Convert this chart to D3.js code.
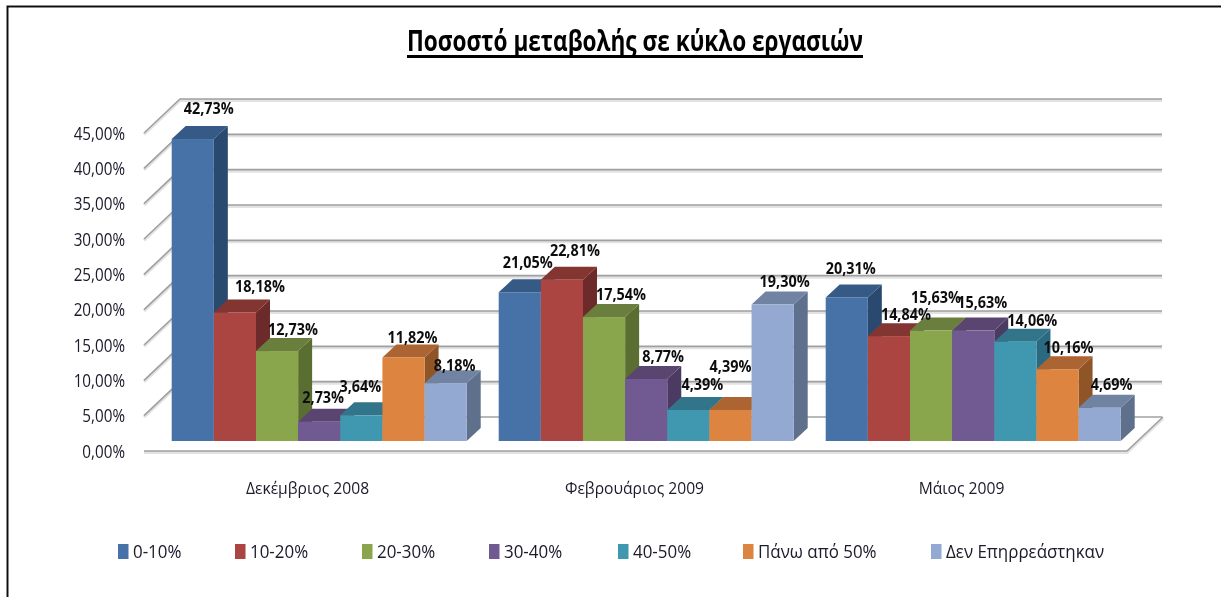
<!DOCTYPE html>
<html><head><meta charset="utf-8">
<script src="https://cdn.jsdelivr.net/npm/d3@7"></script>
<style>html,body{margin:0;padding:0;background:#fff}svg{display:block}</style>
</head><body><div id="c"></div>
<script>
const title = "Ποσοστό μεταβολής σε κύκλο εργασιών";
const categories = ["Δεκέμβριος 2008", "Φεβρουάριος 2009", "Μάιος 2009"];
const seriesNames = ["0-10%", "10-20%", "20-30%", "30-40%", "40-50%", "Πάνω από 50%", "Δεν Επηρρεάστηκαν"];
const dec2008 = [42.73, 18.18, 12.73, 2.73, 3.64, 11.82, 8.18];
const feb2009 = [21.05, 22.81, 17.54, 8.77, 4.39, 4.39, 19.30];
const may2009 = [20.31, 14.84, 15.63, 15.63, 14.06, 10.16, 4.69];
const groups = [dec2008, feb2009, may2009];
const ticks = [0, 5, 10, 15, 20, 25, 30, 35, 40, 45];

const front = ["#4672a8","#aa4442","#8aa64e","#715a92","#4098b0","#dc843f","#94a9d1"];
const topC  = ["#345a85","#833433","#6b7f3d","#5a4570","#33748a","#ac6530","#6f83a3"];
const sideC = ["#2c4a6e","#6d2b2a","#5a6e33","#4b3a62","#2b6b80","#8f5426","#5f6f8c"];

// hand-placed data-label nudges, as in the reference (dx, dy from the bar's back-top centre)
const nudgeX = [[16,25,16,4,-1,9,9],[8,13,17,17,14,0,12],[4,17,5,9,17,11,12]];
const nudgeY = [[-18.5,-14,-9,-12,-16,-7,-5],[-17,-16.5,-10,-10,-13,-31,-11],[-16,-9,-21,-16,-8.5,-9,-11]];
const legendX = [118,235,362,489,618,743,931];

const W = 1221, H = 597;
const face = "'Open Sans','Liberation Sans',sans-serif";
const svg = d3.select("#c").append("svg").attr("width", W).attr("height", H);
svg.append("defs").append("filter").attr("id","soft").attr("x","-2%").attr("y","-2%").attr("width","104%").attr("height","104%")
  .append("feGaussianBlur").attr("stdDeviation",0.45);
const root = svg.append("g").attr("filter","url(#soft)");

// squeeze real text to the narrow proportions of the reference
function squeeze(sel, k){
  const n = sel.node();
  sel.attr("textLength", n.getComputedTextLength()*k).attr("lengthAdjust","spacingAndGlyphs");
  return sel;
}

// frame: left and top only
root.append("path").attr("d","M7.5,597V6.5H1221").attr("fill","none").attr("stroke","#111").attr("stroke-width",2);

const tt = root.append("text").attr("x",635).attr("y",51).attr("text-anchor","middle")
  .attr("font-family",face).attr("font-weight","bold").attr("font-size",29)
  .attr("fill","#000").text(title);
tt.attr("textLength",456).attr("lengthAdjust","spacingAndGlyphs");
root.append("rect").attr("x",407).attr("y",55).attr("width",456).attr("height",3).attr("fill","#000");

const depthX = 36, depthY = 34;
const y = d3.scaleLinear().domain([0,45]).range([451,133]);
const x0 = d3.scaleBand().domain(categories).range([144,1125]).padding(0);
const xGroupPad = 27.7;
const x1 = d3.scaleBand().domain(seriesNames).range([xGroupPad, xGroupPad+295]);
const barFloor = 441, barDX = 14, barDY = 13;
const pxPerUnit = y(0)-y(1);

// grid
const grid = root.append("g");
ticks.forEach(t=>{
  const yy = y(t);
  const p = t===0
    ? `M144,${yy}H1127L${1127+depthX},${yy-depthY}`
    : `M144,${yy}L${144+depthX},${yy-depthY}H1162`;
  grid.append("path").attr("d",p).attr("fill","none").attr("stroke","#e2e2e2").attr("stroke-width",3).attr("transform","translate(0,1.5)");
  grid.append("path").attr("d",p).attr("fill","none").attr("stroke","#a0a0a0").attr("stroke-width",1.6);
});
root.append("path").attr("d",`M${144+depthX},${y(0)-depthY}H1162`).attr("fill","none").attr("stroke","#a0a0a0").attr("stroke-width",1.4);

// y labels
ticks.forEach(t=>{
  const s = root.append("text").attr("x",125).attr("y",y(t)+6.5).attr("text-anchor","end")
    .attr("font-family",face).attr("font-size",17.5).attr("fill","#1a1a2a")
    .text(d3.format(".2f")(t).replace(".",",")+"%");
  squeeze(s,0.87);
});

// bars
groups.forEach((vals,g)=>{
  const gx = x0(categories[g]);
  const bars = root.append("g");
  vals.forEach((v,i)=>{
    const xl = gx + x1(seriesNames[i]), w = x1.bandwidth(), h = v*pxPerUnit, t = barFloor-h;
    bars.append("path").attr("fill",sideC[i])
      .attr("d",`M${xl+w},${t}l${barDX},${-barDY}V${barFloor-barDY}L${xl+w},${barFloor}Z`);
    bars.append("path").attr("fill",topC[i])
      .attr("d",`M${xl},${t}l${barDX},${-barDY}h${w}l${-barDX},${barDY}Z`);
    bars.append("rect").attr("x",xl).attr("y",t).attr("width",w).attr("height",h).attr("fill",front[i]);
  });
  vals.forEach((v,i)=>{
    const xc = gx + x1(seriesNames[i]) + x1.bandwidth()/2, t = barFloor - v*pxPerUnit - barDY;
    const s = root.append("text").attr("x",xc+nudgeX[g][i]).attr("y",t+nudgeY[g][i]+6)
      .attr("text-anchor","middle").attr("font-family",face).attr("font-weight","bold")
      .attr("font-size",16).attr("fill","#111")
      .text(v.toFixed(2).replace(".",",")+"%");
    squeeze(s,0.9);
  });
  const c = root.append("text").attr("x",gx+x0.bandwidth()/2).attr("y",494).attr("text-anchor","middle")
    .attr("font-family",face).attr("font-size",17).attr("fill","#1a1a2a").text(categories[g]);
  squeeze(c,0.92);
});

// legend
seriesNames.forEach((n,i)=>{
  root.append("rect").attr("x",legendX[i]).attr("y",544).attr("width",10.5).attr("height",15).attr("fill",front[i]);
  const s = root.append("text").attr("x",legendX[i]+15).attr("y",558).attr("font-family",face)
    .attr("font-size",18).attr("fill","#1a1a2a").text(n);
  squeeze(s,0.94);
});
</script></body></html>
